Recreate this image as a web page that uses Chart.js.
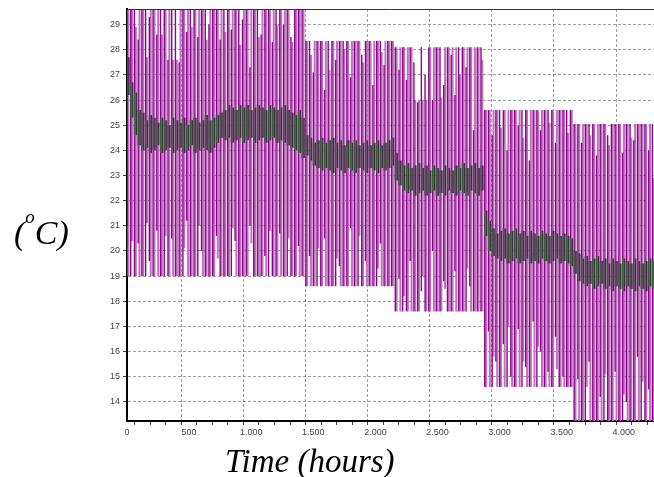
<!DOCTYPE html>
<html>
<head>
<meta charset="utf-8">
<script src="https://cdn.jsdelivr.net/npm/chart.js@4"></script>
<style>
html, body { margin: 0; padding: 0; background: #fff; }
#wrap { position: relative; width: 654px; height: 477px; overflow: hidden; }
#chart { position: absolute; left: 0; top: 0; }
.lbl { position: absolute; font-family: "Liberation Serif", "Times New Roman", serif; font-style: italic; color: #000; white-space: nowrap; }
#ylab { left: 14px; top: 216px; font-size: 34px; line-height: 34px; }
#ylab .sup { font-size: 19px; position: relative; top: -21px; }
#xlab { left: 225px; top: 445px; font-size: 33px; line-height: 33px; }
</style>
</head>
<body>
<div id="wrap">
  <canvas id="chart" width="654" height="477"></canvas>
  <div class="lbl" id="ylab">(<span class="sup">o</span>C)</div>
  <div class="lbl" id="xlab">Time (hours)</div>
</div>
<script>
// temperature record: 5 set-point periods, one heating cycle every 30 h
const segStarts = [0, 1440, 2160, 2880, 3600];
const segCycles = [48, 24, 24, 24, 22];
const cycleHours = 30;

const xTicks = [0, 125, 250, 375, 500, 625, 750, 875, 1000, 1125, 1250, 1375, 1500, 1625, 1750, 1875,
  2000, 2125, 2250, 2375, 2500, 2625, 2750, 2875, 3000, 3125, 3250, 3375, 3500, 3625, 3750, 3875, 4000, 4125];
const yTicks = [14, 15, 16, 17, 18, 19, 20, 21, 22, 23, 24, 25, 26, 27, 28, 29];

// dark purple trace, per cycle (max / min)
const darkHi = [
  28.2, 29.8, 29.8, 28.4, 29.8, 29.8, 29.3, 29.8, 28.6, 29.8, 29.8, 27.6, 29.8, 29.8, 27.5, 29.8, 28.7, 29.8, 29.8, 28.5, 29.8, 29.8, 29.0, 29.8, 29.8, 28.4, 29.8, 29.8, 28.8, 29.8, 29.8, 29.2, 29.8, 27.3, 29.8, 29.8, 28.6, 29.8, 29.8, 28.3, 29.8, 29.8, 29.0, 29.8, 28.5, 29.8, 29.8, 29.8,
  28.35, 28.35, 27.1, 28.35, 28.35, 26.4, 28.35, 28.35, 27.6, 28.35, 28.35, 28.35, 26.9, 28.35, 28.35, 27.8, 28.35, 28.35, 26.6, 28.35, 28.35, 27.4, 28.35, 28.35,
  28.1, 27.2, 28.1, 26.8, 28.1, 27.5, 25.9, 28.1, 27.0, 28.1, 26.0, 28.1, 28.1, 26.6, 28.1, 27.8, 26.2, 28.1, 28.1, 27.3, 28.1, 24.8, 28.1, 28.1,
  25.6, 25.6, 24.6, 25.6, 25.6, 25.6, 24.0, 25.6, 25.6, 25.0, 25.6, 25.6, 23.6, 25.6, 25.6, 24.8, 25.6, 25.6, 25.6, 24.3, 25.6, 25.6, 25.6, 25.6,
  25.05, 25.05, 24.3, 25.05, 25.05, 25.05, 23.8, 25.05, 25.05, 24.6, 25.05, 25.05, 25.05, 23.9, 25.05, 25.05, 24.4, 25.05, 25.05, 25.05, 24.0, 25.05
];
const darkLo = [
  21.0, 19.0, 19.0, 20.3, 19.0, 19.0, 19.6, 19.0, 20.8, 19.0, 19.0, 19.0, 20.5, 19.0, 19.0, 19.0, 21.2, 19.0, 19.0, 19.0, 20.0, 19.0, 19.0, 19.0, 20.6, 19.0, 19.0, 19.0, 19.0, 20.4, 19.0, 19.0, 19.0, 21.0, 19.0, 19.0, 19.0, 19.8, 19.0, 19.0, 19.0, 20.7, 19.0, 19.0, 19.0, 19.0, 20.2, 19.0,
  18.6, 19.8, 18.6, 18.6, 18.6, 20.5, 18.6, 18.6, 18.6, 19.4, 18.6, 18.6, 20.9, 18.6, 18.6, 18.6, 19.6, 18.6, 18.6, 18.6, 20.3, 18.6, 18.6, 18.6,
  17.6, 18.9, 17.6, 17.6, 19.6, 17.6, 17.6, 18.4, 17.6, 17.6, 20.0, 17.6, 17.6, 18.8, 17.6, 17.6, 19.2, 17.6, 17.6, 17.6, 18.6, 17.6, 17.6, 17.6,
  14.6, 16.8, 14.6, 15.6, 14.6, 16.3, 14.6, 15.0, 14.6, 16.9, 14.6, 15.4, 14.6, 17.2, 14.6, 16.0, 14.6, 15.2, 14.6, 16.6, 14.6, 15.0, 14.6, 14.6,
  13.0, 14.9, 13.0, 13.0, 15.6, 13.0, 13.0, 14.2, 13.0, 13.0, 13.0, 15.2, 13.0, 13.0, 14.0, 13.0, 13.0, 15.8, 13.0, 13.0, 14.5, 13.0
];

// light purple trace
const lightHi = [
  29.8, 29.8, 28.9, 29.8, 29.8, 27.7, 29.8, 29.8, 29.8, 28.6, 29.8, 29.8, 27.6, 27.6, 29.8, 29.8, 29.8, 28.9, 29.8, 29.8, 29.8, 28.4, 29.8, 29.8, 29.8, 29.8, 28.7, 29.8, 29.8, 29.8, 28.2, 29.8, 29.8, 29.8, 29.8, 28.5, 29.8, 29.8, 29.8, 29.8, 29.0, 29.8, 29.8, 29.8, 28.3, 29.8, 29.8, 29.8,
  28.35, 27.8, 28.35, 28.35, 28.35, 28.35, 27.2, 28.35, 28.35, 28.35, 28.0, 28.35, 28.35, 28.35, 28.35, 27.5, 28.35, 28.35, 28.35, 28.35, 27.9, 28.35, 28.35, 28.35,
  28.1, 28.1, 28.1, 28.1, 28.1, 26.0, 26.0, 26.0, 26.0, 28.1, 28.1, 28.1, 26.1, 28.1, 28.1, 28.1, 28.1, 27.0, 28.1, 28.1, 28.1, 28.1, 28.1, 27.6,
  25.6, 25.6, 25.6, 25.6, 24.9, 25.6, 25.6, 25.6, 25.6, 25.6, 24.5, 25.6, 25.6, 25.6, 25.6, 25.6, 25.6, 25.1, 25.6, 25.6, 25.6, 25.6, 24.7, 25.6,
  25.05, 25.05, 25.05, 25.05, 24.6, 25.05, 25.05, 25.05, 25.05, 24.2, 25.05, 25.05, 25.05, 25.05, 25.05, 24.5, 25.05, 25.05, 25.05, 25.05, 25.05, 22.9
];
const lightLo = [
  19.0, 20.4, 19.0, 19.0, 19.0, 21.1, 19.0, 19.0, 19.0, 19.0, 20.6, 19.0, 19.0, 19.0, 19.0, 20.1, 19.0, 19.0, 19.0, 21.0, 19.0, 19.0, 19.0, 19.0, 19.7, 19.0, 19.0, 19.0, 20.9, 19.0, 19.0, 19.0, 19.0, 20.3, 19.0, 19.0, 19.0, 19.0, 20.8, 19.0, 19.0, 19.0, 19.0, 20.5, 19.0, 19.0, 19.0, 19.0,
  18.6, 18.6, 18.6, 20.1, 18.6, 18.6, 18.6, 18.6, 19.7, 18.6, 18.6, 18.6, 18.6, 18.6, 20.6, 18.6, 18.6, 18.6, 18.6, 19.3, 18.6, 18.6, 18.6, 18.6,
  17.6, 17.6, 18.2, 17.6, 17.6, 17.6, 17.6, 19.0, 17.6, 17.6, 17.6, 17.6, 17.6, 18.5, 17.6, 17.6, 17.6, 17.6, 17.6, 19.3, 17.6, 17.6, 17.6, 17.6,
  14.6, 14.6, 15.8, 14.6, 14.6, 14.6, 17.0, 14.6, 14.6, 14.6, 15.6, 14.6, 14.6, 14.6, 16.2, 14.6, 14.6, 14.6, 14.6, 15.3, 14.6, 14.6, 14.6, 14.6,
  13.0, 13.0, 13.0, 14.6, 13.0, 13.0, 13.0, 13.0, 15.1, 13.0, 13.0, 13.0, 13.0, 14.3, 13.0, 13.0, 13.0, 13.0, 14.8, 13.0, 13.0, 13.0
];

// room (green) trace, narrow band
const bandHi = [
  27.7, 26.7, 26.3, 25.6, 25.5, 25.2, 25.4, 25.3, 25.1, 25.3, 25.2, 25.0, 25.3, 25.2, 25.1, 25.3, 25.0, 25.2, 25.3, 25.1, 25.2, 25.4, 25.2, 25.3, 25.4, 25.5, 25.6, 25.8, 25.7, 25.6, 25.8, 25.7, 25.8, 25.6, 25.7, 25.8, 25.7, 25.6, 25.8, 25.7, 25.6, 25.7, 25.8, 25.6, 25.5, 25.4, 25.6, 25.3,
  24.6, 24.5, 24.3, 24.4, 24.5, 24.3, 24.4, 24.5, 24.3, 24.4, 24.2, 24.4, 24.3, 24.4, 24.2, 24.3, 24.4, 24.2, 24.3, 24.4, 24.2, 24.3, 24.4, 24.5,
  23.9, 23.6, 23.4, 23.5, 23.3, 23.4, 23.5, 23.3, 23.4, 23.2, 23.4, 23.3, 23.2, 23.4, 23.3, 23.2, 23.4, 23.3, 23.5, 23.3, 23.4, 23.5, 23.3, 23.4,
  21.6, 21.2, 20.9, 20.7, 20.8, 20.9, 20.7, 20.8, 20.9, 20.7, 20.8, 20.6, 20.8, 20.7, 20.6, 20.8, 20.7, 20.6, 20.8, 20.7, 20.6, 20.7, 20.6, 20.5,
  20.0, 19.9, 19.7, 19.8, 19.6, 19.7, 19.8, 19.6, 19.7, 19.5, 19.7, 19.6, 19.5, 19.7, 19.6, 19.5, 19.7, 19.6, 19.5, 19.6, 19.7, 19.6
];
const bandLo = [
  26.2, 25.3, 24.6, 24.2, 24.0, 24.1, 23.9, 24.0, 24.2, 23.9, 24.0, 24.1, 23.9, 24.0, 24.1, 23.9, 24.0, 24.2, 23.9, 24.0, 24.1, 24.0, 23.9, 24.1, 24.3, 24.5, 24.4, 24.5, 24.3, 24.4, 24.5, 24.3, 24.4, 24.5, 24.3, 24.4, 24.5, 24.3, 24.4, 24.5, 24.3, 24.4, 24.3, 24.2, 24.1, 24.0, 23.9, 23.7,
  23.8, 23.6, 23.4, 23.3, 23.2, 23.3, 23.2, 23.1, 23.3, 23.2, 23.1, 23.3, 23.2, 23.1, 23.3, 23.2, 23.1, 23.3, 23.2, 23.1, 23.3, 23.2, 23.3, 23.4,
  22.8, 22.6, 22.4, 22.3, 22.4, 22.2, 22.3, 22.4, 22.2, 22.3, 22.4, 22.2, 22.3, 22.2, 22.4, 22.3, 22.2, 22.4, 22.3, 22.2, 22.4, 22.3, 22.2, 22.4,
  20.6, 20.0, 19.8, 19.7, 19.6, 19.7, 19.5, 19.6, 19.7, 19.5, 19.6, 19.7, 19.5, 19.6, 19.5, 19.7, 19.6, 19.5, 19.6, 19.7, 19.5, 19.6, 19.5, 19.4,
  19.1, 18.8, 18.7, 18.6, 18.7, 18.5, 18.6, 18.7, 18.5, 18.6, 18.4, 18.6, 18.5, 18.4, 18.6, 18.5, 18.4, 18.6, 18.5, 18.4, 18.6, 18.5
];

// cycle start times
const cycleTimes = [];
segStarts.forEach((s, i) => {
  for (let k = 0; k < segCycles[i]; k++) cycleTimes.push(s + k * cycleHours);
});

function bars(lo, hi, shift) {
  return cycleTimes.map((t, i) => ({ x: t + shift, y: [lo[i], hi[i]] }));
}

const gridColor = 'rgba(95,95,95,0.6)';

// thin frame line along the top of the plot
const topFrame = {
  id: 'topFrame',
  afterDraw(chart) {
    const { ctx, chartArea } = chart;
    ctx.save();
    ctx.strokeStyle = '#333';
    ctx.lineWidth = 1;
    ctx.beginPath();
    ctx.moveTo(chartArea.left, chartArea.top + 0.5);
    ctx.lineTo(chartArea.right, chartArea.top + 0.5);
    ctx.stroke();
    ctx.restore();
  }
};

function fmtHours(v) {
  if (v < 1000) return String(v);
  const th = Math.floor(v / 1000);
  return th + '.' + String(v % 1000).padStart(3, '0');
}

const ctx = document.getElementById('chart').getContext('2d');
new Chart(ctx, {
  type: 'bar',
  data: {
    datasets: [
      { label: 'room', data: bars(bandLo, bandHi, 0), backgroundColor: '#2a6a2a', barThickness: 1.3, order: 0 },
      { label: 'room band', data: bars(bandLo, bandHi, 15), backgroundColor: '#4e2852', barThickness: 1.6, order: 1 },
      { label: 'supply', data: bars(darkLo, darkHi, 0), backgroundColor: '#870887', barThickness: 1.4, order: 2 },
      { label: 'return', data: bars(lightLo, lightHi, 11), backgroundColor: '#c070c0', barThickness: 2.0, order: 3 }
    ]
  },
  options: {
    responsive: false,
    animation: false,
    datasets: { bar: { grouped: false, borderWidth: 0, inflateAmount: 0 } },
    layout: { padding: { top: 9, right: 0, bottom: 0, left: 0 } },
    plugins: { legend: { display: false }, tooltip: { enabled: false } },
    scales: {
      x: {
        type: 'linear', min: 0, max: 4243, offset: false, z: 1,
        afterBuildTicks: s => { s.ticks = xTicks.map(v => ({ value: v })); },
        afterFit: s => { s.height = 56; },
        grid: {
          color: c => (c.tick && c.tick.value % 500 === 0) ? gridColor : 'rgba(0,0,0,0)',
          tickColor: '#444', tickLength: 4, lineWidth: 1
        },
        border: { color: '#000', width: 2, dash: [3, 2] },
        ticks: {
          autoSkip: false, maxRotation: 0, padding: 2,
          color: '#444', font: { family: 'Liberation Sans, Arial, sans-serif', size: 9 },
          callback: v => (v % 500 === 0) ? fmtHours(v) : ''
        }
      },
      y: {
        min: 13.244, max: 29.617, z: 1,
        afterBuildTicks: s => { s.ticks = yTicks.map(v => ({ value: v })); },
        afterFit: s => { s.width = 127; },
        grid: { color: gridColor, tickColor: '#444', tickLength: 4, lineWidth: 1 },
        border: { color: '#000', width: 2, dash: [3, 2] },
        ticks: {
          padding: 3, color: '#444',
          font: { family: 'Liberation Sans, Arial, sans-serif', size: 9 }
        }
      }
    }
  },
  plugins: [topFrame]
});
</script>
</body>
</html>
